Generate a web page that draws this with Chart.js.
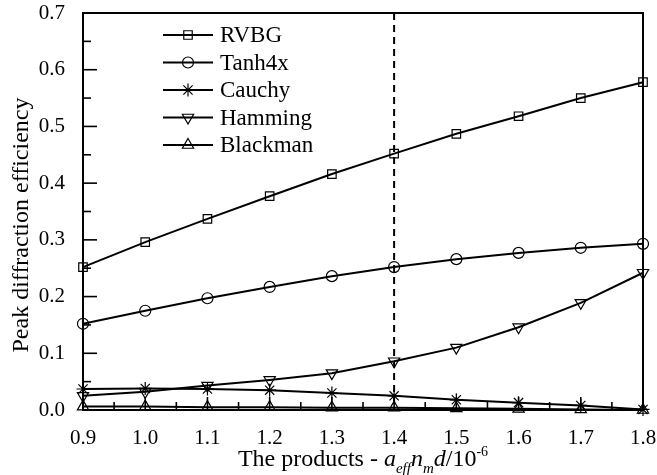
<!DOCTYPE html>
<html lang="en">
<head>
<meta charset="UTF-8" />
<title>Peak diffraction efficiency</title>
<style>
    body { margin: 0; background: #fff; }
    #wrap { width: 657px; height: 475px; }
</style>
</head>
<body>
<div id="wrap"><canvas id="chart" width="657" height="475"></canvas></div>
<script src="https://cdn.jsdelivr.net/npm/chart.js"></script>
<script>
// data
const products = [0.9, 1.0, 1.1, 1.2, 1.3, 1.4, 1.5, 1.6, 1.7, 1.8];
const rvbg     = [0.252, 0.296, 0.337, 0.377, 0.416, 0.452, 0.487, 0.518, 0.550, 0.578];
const tanh4x   = [0.152, 0.175, 0.197, 0.217, 0.236, 0.252, 0.266, 0.277, 0.286, 0.293];
const cauchy   = [0.037, 0.038, 0.037, 0.035, 0.030, 0.025, 0.018, 0.013, 0.008, 0.001];
const hamming  = [0.025, 0.032, 0.043, 0.053, 0.065, 0.086, 0.110, 0.146, 0.189, 0.242];
const blackman = [0.006, 0.006, 0.005, 0.005, 0.004, 0.004, 0.003, 0.002, 0.001, 0.000];
const seriesNames = ['RVBG', 'Tanh4x', 'Cauchy', 'Hamming', 'Blackman'];
const xTickLabels = ['0.9', '1.0', '1.1', '1.2', '1.3', '1.4', '1.5', '1.6', '1.7', '1.8'];
const yTickLabels = ['0.0', '0.1', '0.2', '0.3', '0.4', '0.5', '0.6', '0.7'];
const markerLine = 1.4;

const SERIF = '"Liberation Serif", "Times New Roman", serif';

const styles = [
    { pointStyle: 'rect', radius: 6, rotation: 0 },
    { pointStyle: 'circle', radius: 5.5, rotation: 0 },
    { pointStyle: 'star', radius: 6.5, rotation: 0 },
    { pointStyle: 'triangle', radius: 6.5, rotation: 180 },
    { pointStyle: 'triangle', radius: 6.5, rotation: 0 }
];

function pts(arr) {
    return products.map((x, i) => ({ x: x, y: arr[i] }));
}

const datasets = [rvbg, tanh4x, cauchy, hamming, blackman].map((arr, i) => ({
    label: seriesNames[i],
    data: pts(arr),
    borderColor: '#000',
    borderWidth: 2,
    backgroundColor: 'rgba(0,0,0,0)',
    pointStyle: styles[i].pointStyle,
    pointRadius: styles[i].radius,
    pointRotation: styles[i].rotation,
    pointBorderColor: '#000',
    pointBackgroundColor: 'rgba(0,0,0,0)',
    pointBorderWidth: 1.2,
    tension: 0,
    clip: false
}));

// frame, inward ticks, dashed marker, legend and axis titles
const decor = {
    id: 'decor',
    afterDatasetsDraw(chart) {
        const ctx = chart.ctx;
        const a = chart.chartArea;
        const xs = chart.scales.x, ys = chart.scales.y;
        ctx.save();
        ctx.strokeStyle = '#000';

        // dashed line at 1.4
        const dx = xs.getPixelForValue(markerLine);
        ctx.lineWidth = 2;
        ctx.setLineDash([7, 5]);
        ctx.beginPath();
        ctx.moveTo(dx, a.top);
        ctx.lineTo(dx, a.bottom);
        ctx.stroke();
        ctx.setLineDash([]);

        // ticks
        ctx.lineWidth = 1.6;
        for (let i = 0; i <= 18; i++) {
            const px = xs.getPixelForValue(0.9 + i * 0.05);
            const len = i % 2 === 0 ? 13 : 8;
            ctx.beginPath();
            ctx.moveTo(px, a.bottom);
            ctx.lineTo(px, a.bottom - len);
            ctx.stroke();
        }
        for (let i = 0; i <= 14; i++) {
            const py = ys.getPixelForValue(i * 0.05);
            const len = i % 2 === 0 ? 14 : 8;
            ctx.beginPath();
            ctx.moveTo(a.left, py);
            ctx.lineTo(a.left + len, py);
            ctx.stroke();
        }

        // frame
        ctx.lineWidth = 2;
        ctx.strokeRect(a.left, a.top, a.right - a.left, a.bottom - a.top);

        // legend
        ctx.font = '23px ' + SERIF;
        ctx.fillStyle = '#000';
        ctx.textBaseline = 'middle';
        ctx.textAlign = 'left';
        chart.data.datasets.forEach((ds, i) => {
            const y = 35 + i * 27.5;
            ctx.lineWidth = 1.8;
            ctx.beginPath();
            ctx.moveTo(163, y);
            ctx.lineTo(213, y);
            ctx.stroke();
            ctx.lineWidth = 1.2;
            ctx.fillStyle = 'rgba(0,0,0,0)';
            Chart.helpers.drawPoint(ctx, {
                pointStyle: ds.pointStyle,
                radius: ds.pointRadius,
                rotation: ds.pointRotation,
                borderWidth: 1.2
            }, 188, y);
            ctx.fillStyle = '#000';
            ctx.fillText(ds.label, 220, y + 1);
        });

        // y title
        ctx.save();
        ctx.translate(22, 225);
        ctx.rotate(-Math.PI / 2);
        ctx.textAlign = 'center';
        ctx.textBaseline = 'middle';
        ctx.font = '24px ' + SERIF;
        ctx.fillText('Peak diffraction efficiency', 0, 0);
        ctx.restore();

        // x title with sub/superscripts
        const parts = [
            { t: 'The products - ', f: '24px ' + SERIF, dy: 0 },
            { t: 'a', f: 'italic 24px ' + SERIF, dy: 0 },
            { t: 'eff', f: 'italic 15px ' + SERIF, dy: 7 },
            { t: 'n', f: 'italic 24px ' + SERIF, dy: 0 },
            { t: 'm', f: 'italic 15px ' + SERIF, dy: 7 },
            { t: 'd', f: 'italic 24px ' + SERIF, dy: 0 },
            { t: '/10', f: '24px ' + SERIF, dy: 0 },
            { t: '-6', f: '14px ' + SERIF, dy: -10 }
        ];
        let total = 0;
        parts.forEach(p => { ctx.font = p.f; p.w = ctx.measureText(p.t).width; total += p.w; });
        let x = (a.left + a.right) / 2 - total / 2;
        const base = 466;
        ctx.textBaseline = 'alphabetic';
        parts.forEach(p => {
            ctx.font = p.f;
            ctx.fillText(p.t, x, base + p.dy);
            x += p.w;
        });
        ctx.restore();
    }
};

new Chart(document.getElementById('chart').getContext('2d'), {
    type: 'line',
    data: { datasets: datasets },
    options: {
        responsive: false,
        animation: false,
        layout: { padding: { left: 0, top: 13, right: 14, bottom: 0 } },
        plugins: { legend: { display: false }, tooltip: { enabled: false } },
        scales: {
            x: {
                type: 'linear',
                min: 0.9,
                max: 1.8,
                grid: { display: false },
                border: { display: false },
                afterFit(s) { s.height = 65; s.paddingLeft = 0; s.paddingRight = 0; },
                afterBuildTicks(s) { s.ticks = products.map(v => ({ value: v })); },
                ticks: {
                    padding: 8,
                    color: '#000',
                    maxRotation: 0,
                    font: { family: SERIF, size: 21 },
                    callback: (v, i) => xTickLabels[i]
                }
            },
            y: {
                min: 0,
                max: 0.7,
                grid: { display: false },
                border: { display: false },
                afterFit(s) { s.width = 83; s.paddingTop = 0; s.paddingBottom = 0; },
                afterBuildTicks(s) { s.ticks = yTickLabels.map(t => ({ value: parseFloat(t) })); },
                ticks: {
                    padding: 10,
                    color: '#000',
                    font: { family: SERIF, size: 21 },
                    callback: (v, i) => yTickLabels[i]
                }
            }
        }
    },
    plugins: [decor]
});
</script>
</body>
</html>
